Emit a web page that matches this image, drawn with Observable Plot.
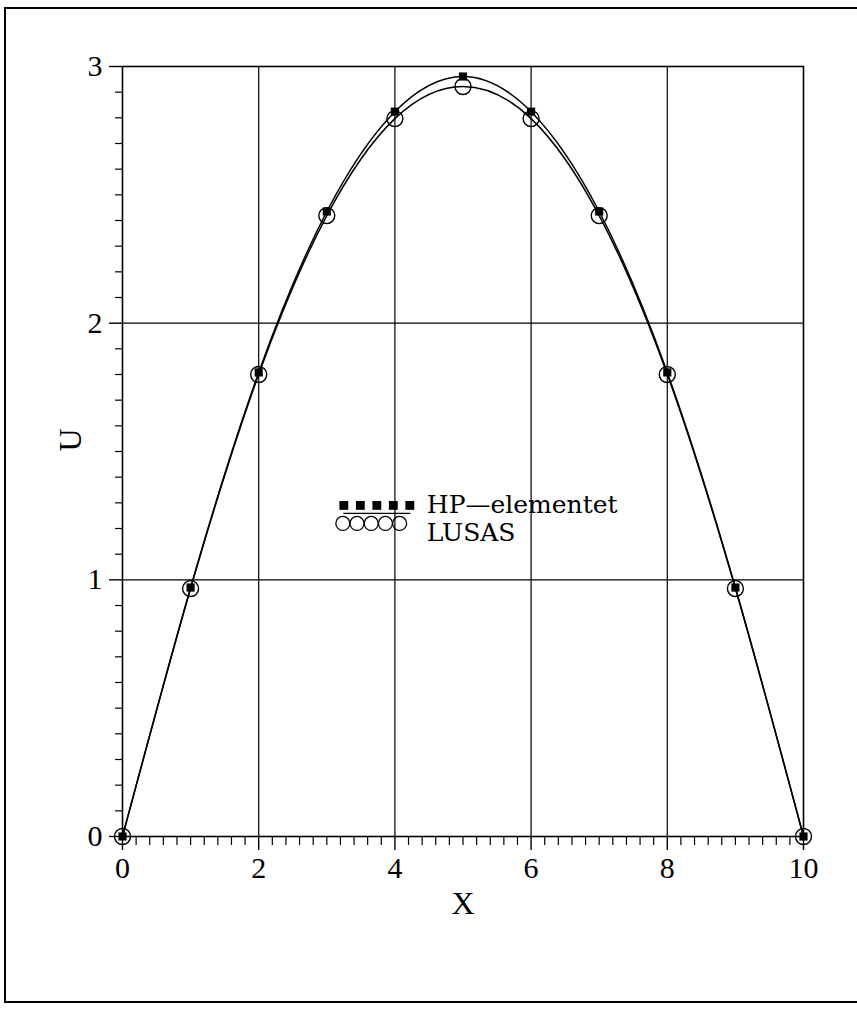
<!DOCTYPE html>
<html>
<head>
<meta charset="utf-8">
<script src="https://cdn.jsdelivr.net/npm/d3@7"></script>
<script src="https://cdn.jsdelivr.net/npm/@observablehq/plot@0.6"></script>
<style>
  html, body { margin: 0; padding: 0; background: #fff; overflow: hidden; }
  #wrap { position: relative; width: 857px; height: 1012px; overflow: hidden; }
  #border { position: absolute; left: 4px; top: 7px; width: 900px; height: 996px; border: 2px solid #000; border-right: none; box-sizing: border-box; pointer-events: none; }
</style>
</head>
<body>
<div id="wrap"><div id="border"></div></div>
<script>
// Data
const xValues = [0, 1, 2, 3, 4, 5, 6, 7, 8, 9, 10];
const hpValues = [0, 0.970, 1.808, 2.435, 2.824, 2.961, 2.824, 2.435, 1.808, 0.970, 0];
const lusasValues = [0, 0.966, 1.800, 2.419, 2.797, 2.922, 2.797, 2.419, 1.800, 0.966, 0];
const xMajorTicks = [0, 2, 4, 6, 8, 10];
const yMajorTicks = [0, 1, 2, 3];
const seriesNames = ["HP\u2014elementet", "LUSAS"];
const legendSamples = [0, 1, 2, 3, 4];
const legendAnchor = {x: 3.25, y: 1.29};

const hp = xValues.map((x, i) => ({x, u: hpValues[i]}));
const lusas = xValues.map((x, i) => ({x, u: lusasValues[i]}));
const xMinor = d3.range(0, 10.001, 0.2).map(v => +v.toFixed(1)).filter(v => !xMajorTicks.includes(v));
const yMinor = d3.range(0, 3.001, 0.1).map(v => +v.toFixed(1)).filter(v => !yMajorTicks.includes(v));
const FONT = "Liberation Serif, DejaVu Serif, serif";
const LEGEND_FONT = "DejaVu Serif, Liberation Serif, serif";

const chart = Plot.plot({
  width: 857,
  height: 1012,
  marginLeft: 122,
  marginRight: 54,
  marginTop: 66,
  marginBottom: 176,
  style: {fontFamily: FONT, background: "transparent", color: "#000"},
  x: {domain: [0, 10]},
  y: {domain: [0, 3]},
  marks: [
    Plot.ruleX([2, 4, 6, 8], {stroke: "#000", strokeWidth: 1.2}),
    Plot.ruleY([1, 2], {stroke: "#000", strokeWidth: 1.2}),
    Plot.frame({stroke: "#000", strokeWidth: 1.6}),
    Plot.axisX(xMajorTicks, {tickSize: 14, tickPadding: 6, fontSize: 30, strokeWidth: 1.4, label: null, tickFormat: d => String(d)}),
    Plot.axisX(xMinor, {tickSize: 9, strokeWidth: 1.2, label: null, tickFormat: () => ""}),
    Plot.axisY(yMajorTicks, {tickSize: 13, tickPadding: 7, fontSize: 30, strokeWidth: 1.4, label: null, tickFormat: d => String(d)}),
    Plot.axisY(yMinor, {tickSize: 7, strokeWidth: 1.2, label: null, tickFormat: () => ""}),
    Plot.line(lusas, {x: "x", y: "u", curve: "natural", stroke: "#000", strokeWidth: 1.5}),
    Plot.line(hp, {x: "x", y: "u", curve: "natural", stroke: "#000", strokeWidth: 1.5}),
    Plot.dot(lusas, {x: "x", y: "u", r: 8, stroke: "#000", strokeWidth: 1.4, fill: "none"}),
    Plot.dot(hp, {x: "x", y: "u", symbol: "square", r: 4.6, fill: "#000", stroke: "none"}),
    // legend
    Plot.dot(legendSamples, {x: () => legendAnchor.x, y: () => legendAnchor.y, symbol: "square", r: 5, fill: "#000",
      render: (index, scales, values, dims, context, next) => { const g = next(index, scales, values, dims, context); d3.select(g).selectAll("path").attr("transform", (d, j) => `translate(${values.x[j] + legendSamples[j] * 16.5},${values.y[j]})`); return g; }}),
    Plot.ruleY([legendAnchor.y], {x1: legendAnchor.x, x2: legendAnchor.x + 1, dy: 8, stroke: "#000", strokeWidth: 1.3,
      render: (index, scales, values, dims, context, next) => { const g = next(index, scales, values, dims, context); d3.select(g).selectAll("line").attr("x2", scales.x(legendAnchor.x) + 67); return g; }}),
    Plot.dot(legendSamples, {x: () => legendAnchor.x, y: () => legendAnchor.y, r: 7, stroke: "#000", strokeWidth: 1.3, fill: "none",
      render: (index, scales, values, dims, context, next) => { const g = next(index, scales, values, dims, context); d3.select(g).selectAll("circle").attr("cx", (d, j) => values.x[j] + legendSamples[j] * 14.2 - 1).attr("cy", values.y[0] + 18); return g; }}),
    Plot.text([seriesNames[0]], {x: () => legendAnchor.x, y: () => legendAnchor.y, dx: 83, dy: 0, textAnchor: "start", fontSize: 25, fontFamily: LEGEND_FONT, fill: "#000"}),
    Plot.text([seriesNames[1]], {x: () => legendAnchor.x, y: () => legendAnchor.y, dx: 83, dy: 28, textAnchor: "start", fontSize: 25, fontFamily: LEGEND_FONT, fill: "#000"}),
    // axis titles
    Plot.text(["X"], {frameAnchor: "bottom", dy: 77, fontSize: 32, fill: "#000"}),
    Plot.text(["U"], {frameAnchor: "left", dx: -52, rotate: -90, fontSize: 32, fill: "#000"})
  ]
});
document.getElementById("wrap").prepend(chart);
</script>
</body>
</html>
